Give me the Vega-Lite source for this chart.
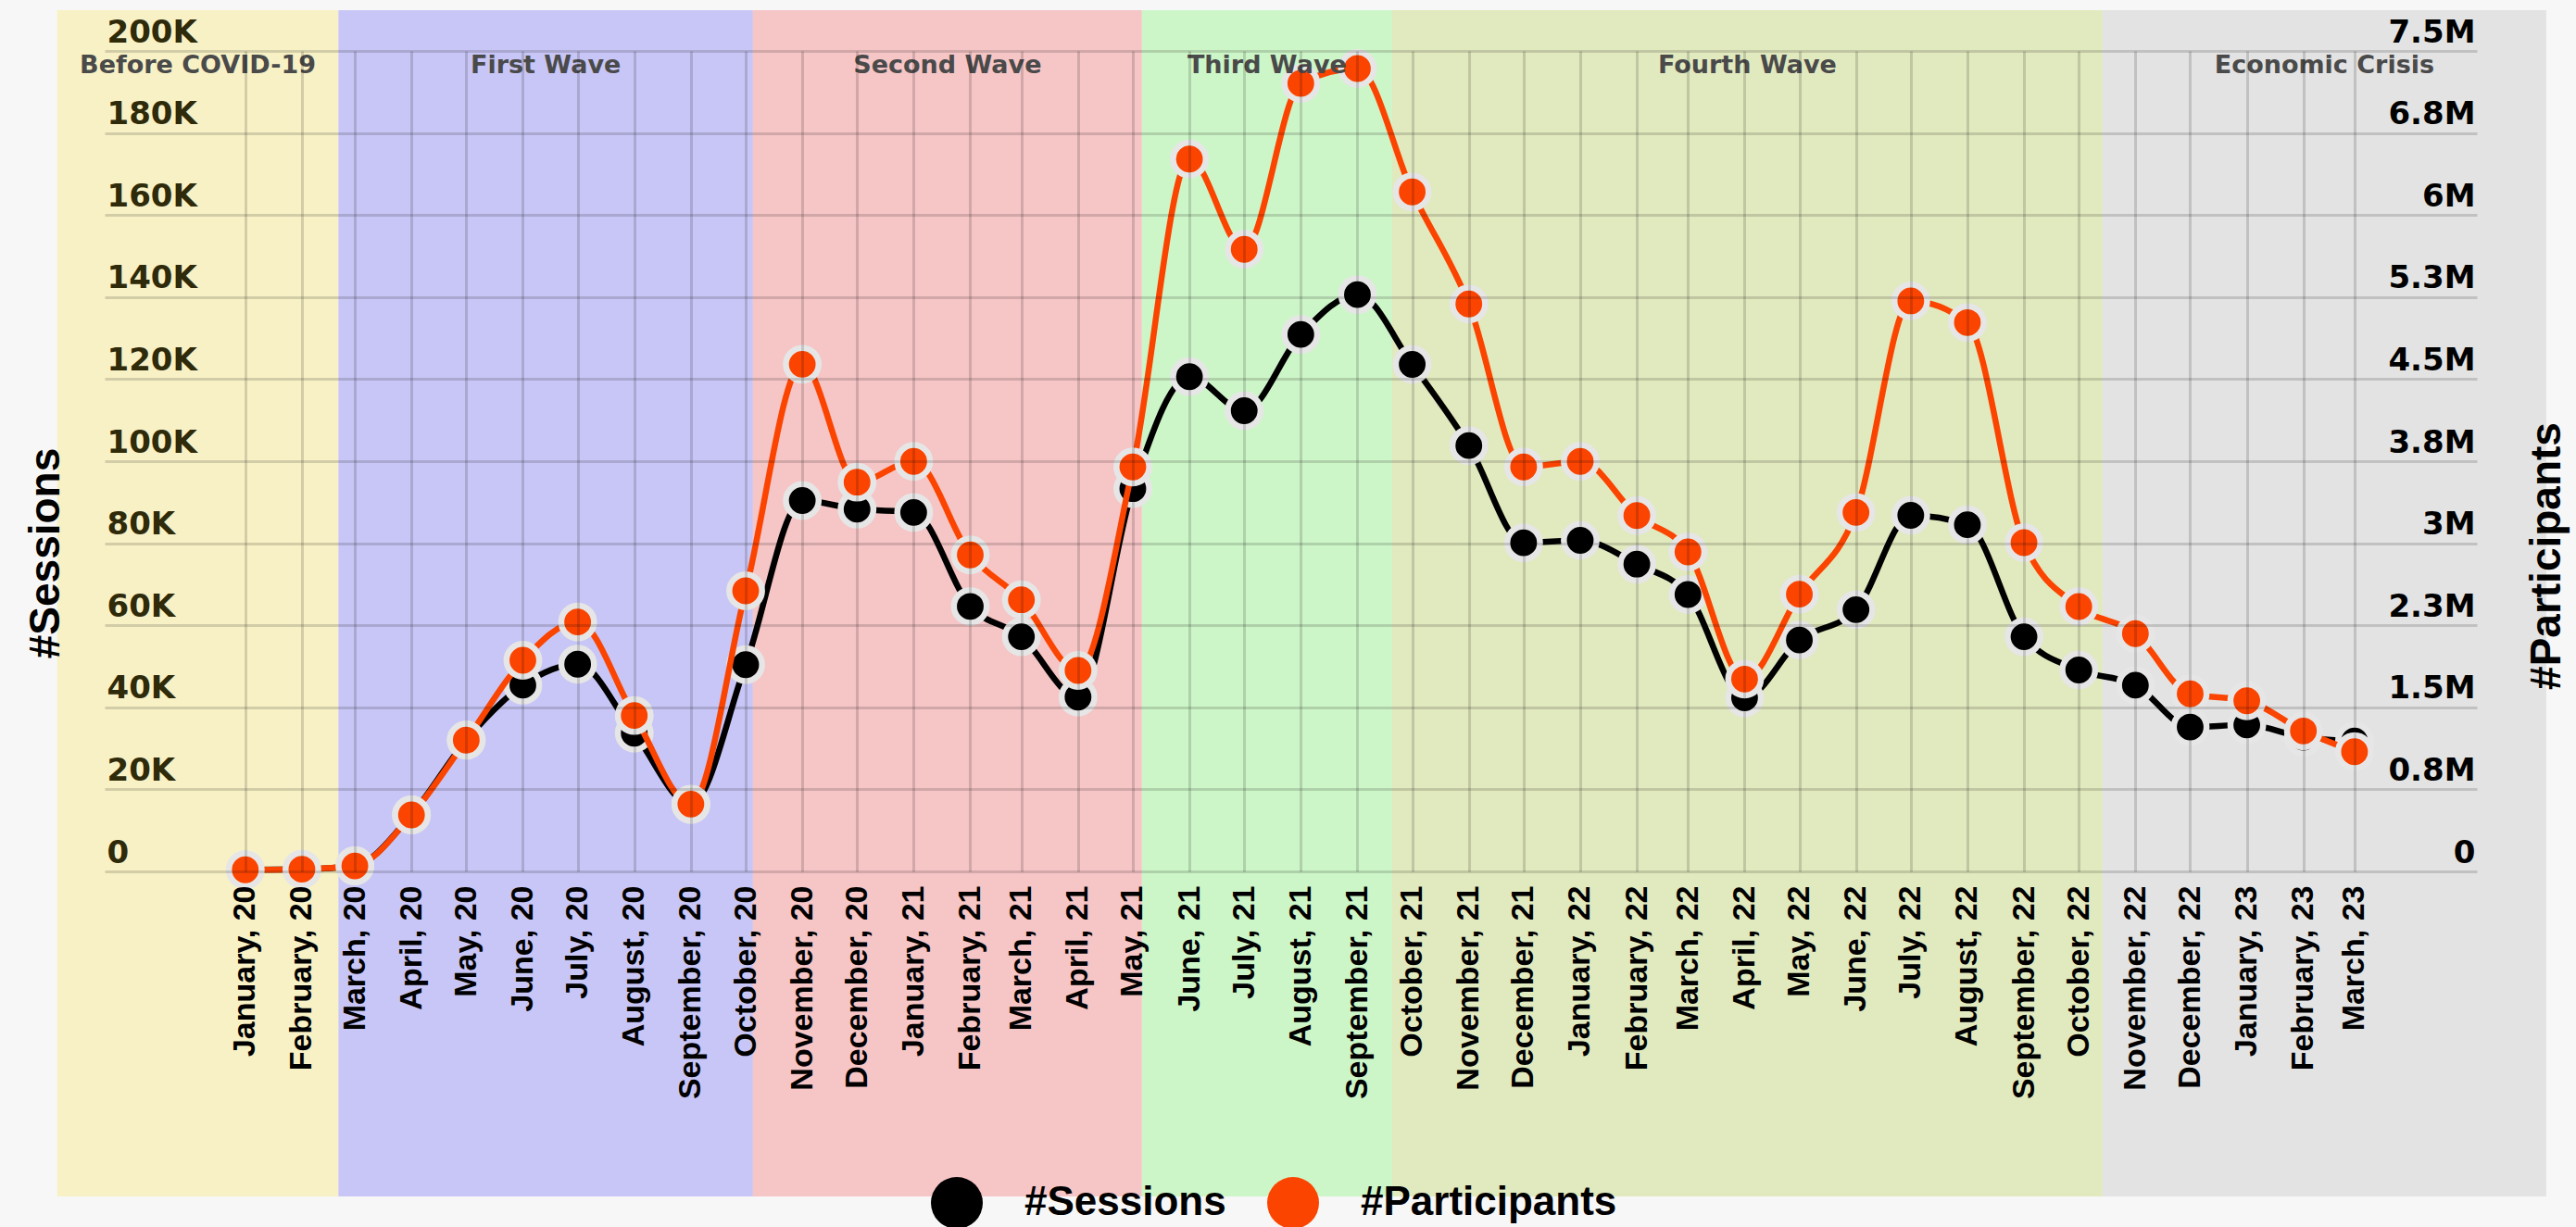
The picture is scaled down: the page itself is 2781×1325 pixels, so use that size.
{
  "$schema": "https://vega.github.io/schema/vega-lite/v6.json",
  "width": 2561,
  "height": 886,
  "autosize": {"type": "none"},
  "padding": {"left": 113, "top": 55, "right": 107, "bottom": 384},
  "background": "#f7f7f7",
  "config": {"view": {"stroke": null}},
  "datasets": {
    "monthly": [
      {"month": "2020-01-01", "sessions": 400, "participants": 15000},
      {"month": "2020-02-01", "sessions": 500, "participants": 20000},
      {"month": "2020-03-01", "sessions": 1400, "participants": 50000},
      {"month": "2020-04-01", "sessions": 13800, "participants": 516000},
      {"month": "2020-05-01", "sessions": 32000, "participants": 1200000},
      {"month": "2020-06-01", "sessions": 45400, "participants": 1930000},
      {"month": "2020-07-01", "sessions": 50500, "participants": 2280000},
      {"month": "2020-08-01", "sessions": 33700, "participants": 1425000},
      {"month": "2020-09-01", "sessions": 16300, "participants": 615000},
      {"month": "2020-10-01", "sessions": 50400, "participants": 2565000},
      {"month": "2020-11-01", "sessions": 90400, "participants": 4636000},
      {"month": "2020-12-01", "sessions": 88300, "participants": 3558000},
      {"month": "2021-01-01", "sessions": 87500, "participants": 3748000},
      {"month": "2021-02-01", "sessions": 64600, "participants": 2893000},
      {"month": "2021-03-01", "sessions": 57200, "participants": 2483000},
      {"month": "2021-04-01", "sessions": 42500, "participants": 1837000},
      {"month": "2021-05-01", "sessions": 93300, "participants": 3697000},
      {"month": "2021-06-01", "sessions": 120600, "participants": 6512000},
      {"month": "2021-07-01", "sessions": 112300, "participants": 5686000},
      {"month": "2021-08-01", "sessions": 130900, "participants": 7204000},
      {"month": "2021-09-01", "sessions": 140600, "participants": 7339000},
      {"month": "2021-10-01", "sessions": 123600, "participants": 6211000},
      {"month": "2021-11-01", "sessions": 103800, "participants": 5187000},
      {"month": "2021-12-01", "sessions": 80100, "participants": 3697000},
      {"month": "2022-01-01", "sessions": 80700, "participants": 3748000},
      {"month": "2022-02-01", "sessions": 74900, "participants": 3253000},
      {"month": "2022-03-01", "sessions": 67500, "participants": 2920000},
      {"month": "2022-04-01", "sessions": 42300, "participants": 1758000},
      {"month": "2022-05-01", "sessions": 56400, "participants": 2534000},
      {"month": "2022-06-01", "sessions": 63800, "participants": 3281000},
      {"month": "2022-07-01", "sessions": 86800, "participants": 5215000},
      {"month": "2022-08-01", "sessions": 84500, "participants": 5017000},
      {"month": "2022-09-01", "sessions": 57200, "participants": 3005000},
      {"month": "2022-10-01", "sessions": 49100, "participants": 2421000},
      {"month": "2022-11-01", "sessions": 45400, "participants": 2173000},
      {"month": "2022-12-01", "sessions": 35200, "participants": 1623000},
      {"month": "2023-01-01", "sessions": 35700, "participants": 1560000},
      {"month": "2023-02-01", "sessions": 32700, "participants": 1284000},
      {"month": "2023-03-01", "sessions": 31800, "participants": 1094000}
    ],
    "periods": [
      {"period": "Before COVID-19", "start": "2019-09-20", "end": "2020-02-21"},
      {"period": "First Wave", "start": "2020-02-21", "end": "2020-10-05"},
      {"period": "Second Wave", "start": "2020-10-05", "end": "2021-05-06"},
      {"period": "Third Wave", "start": "2021-05-06", "end": "2021-09-20"},
      {"period": "Fourth Wave", "start": "2021-09-20", "end": "2022-10-14"},
      {"period": "Economic Crisis", "start": "2022-10-14", "end": "2023-06-14"}
    ]
  },
  "layer": [
    {
      "layer": [
        {
          "data": {"name": "periods"},
          "mark": {"type": "rect"},
          "encoding": {
            "x": {
              "field": "start",
              "type": "temporal",
              "scale": {
                "type": "utc",
                "domain": [
                  {"year": 2019, "month": 10, "date": 16, "utc": true},
                  {"year": 2023, "month": 5, "date": 7, "utc": true}
                ]
              },
              "axis": {
                "title": null,
                "values": [
                  {"year": 2020, "month": 1, "date": 1, "utc": true},
                  {"year": 2020, "month": 2, "date": 1, "utc": true},
                  {"year": 2020, "month": 3, "date": 1, "utc": true},
                  {"year": 2020, "month": 4, "date": 1, "utc": true},
                  {"year": 2020, "month": 5, "date": 1, "utc": true},
                  {"year": 2020, "month": 6, "date": 1, "utc": true},
                  {"year": 2020, "month": 7, "date": 1, "utc": true},
                  {"year": 2020, "month": 8, "date": 1, "utc": true},
                  {"year": 2020, "month": 9, "date": 1, "utc": true},
                  {"year": 2020, "month": 10, "date": 1, "utc": true},
                  {"year": 2020, "month": 11, "date": 1, "utc": true},
                  {"year": 2020, "month": 12, "date": 1, "utc": true},
                  {"year": 2021, "month": 1, "date": 1, "utc": true},
                  {"year": 2021, "month": 2, "date": 1, "utc": true},
                  {"year": 2021, "month": 3, "date": 1, "utc": true},
                  {"year": 2021, "month": 4, "date": 1, "utc": true},
                  {"year": 2021, "month": 5, "date": 1, "utc": true},
                  {"year": 2021, "month": 6, "date": 1, "utc": true},
                  {"year": 2021, "month": 7, "date": 1, "utc": true},
                  {"year": 2021, "month": 8, "date": 1, "utc": true},
                  {"year": 2021, "month": 9, "date": 1, "utc": true},
                  {"year": 2021, "month": 10, "date": 1, "utc": true},
                  {"year": 2021, "month": 11, "date": 1, "utc": true},
                  {"year": 2021, "month": 12, "date": 1, "utc": true},
                  {"year": 2022, "month": 1, "date": 1, "utc": true},
                  {"year": 2022, "month": 2, "date": 1, "utc": true},
                  {"year": 2022, "month": 3, "date": 1, "utc": true},
                  {"year": 2022, "month": 4, "date": 1, "utc": true},
                  {"year": 2022, "month": 5, "date": 1, "utc": true},
                  {"year": 2022, "month": 6, "date": 1, "utc": true},
                  {"year": 2022, "month": 7, "date": 1, "utc": true},
                  {"year": 2022, "month": 8, "date": 1, "utc": true},
                  {"year": 2022, "month": 9, "date": 1, "utc": true},
                  {"year": 2022, "month": 10, "date": 1, "utc": true},
                  {"year": 2022, "month": 11, "date": 1, "utc": true},
                  {"year": 2022, "month": 12, "date": 1, "utc": true},
                  {"year": 2023, "month": 1, "date": 1, "utc": true},
                  {"year": 2023, "month": 2, "date": 1, "utc": true},
                  {"year": 2023, "month": 3, "date": 1, "utc": true}
                ],
                "labelExpr": "utcFormat(datum.value, '%B, %y')",
                "labelAngle": -90,
                "labelFont": "Liberation Sans",
                "labelFontWeight": "bold",
                "labelFontSize": 34,
                "labelColor": "#000000",
                "labelPadding": 15,
                "labelLimit": 0,
                "labelOverlap": false,
                "labelFlush": false,
                "labelBound": false,
                "ticks": false,
                "tickSize": 0,
                "domain": false,
                "grid": true,
                "gridColor": "#000000",
                "gridOpacity": 0.15,
                "gridWidth": 3,
                "zindex": 1
              }
            },
            "x2": {"field": "end"},
            "y": {
              "datum": 209932,
              "type": "quantitative",
              "scale": {"domain": [0, 200000], "nice": false, "zero": false},
              "axis": {
                "title": "#Sessions",
                "titleFont": "Liberation Sans",
                "titleFontWeight": "bold",
                "titleFontSize": 46,
                "titleColor": "#000000",
                "titleAngle": -90,
                "titleX": -50,
                "titleY": 542,
                "titleAlign": "center",
                "titleBaseline": "alphabetic",
                "values": [0, 20000, 40000, 60000, 80000, 100000, 120000, 140000, 160000, 180000, 200000],
                "labelExpr": "datum.value == 0 ? '0' : (datum.value / 1000) + 'K'",
                "labelAlign": "left",
                "labelBaseline": "alphabetic",
                "labelOffset": -10,
                "labelPadding": -2,
                "labelFont": "DejaVu Sans",
                "labelFontWeight": "bold",
                "labelFontSize": 34,
                "labelColor": "#2e2a0a",
                "labelOverlap": false,
                "labelFlush": false,
                "ticks": false,
                "tickSize": 0,
                "domain": false,
                "grid": true,
                "gridColor": "#000000",
                "gridOpacity": 0.15,
                "gridWidth": 3,
                "zindex": 1
              }
            },
            "y2": {"datum": -79232},
            "fill": {
              "field": "period",
              "type": "nominal",
              "scale": {
                "domain": ["Before COVID-19", "First Wave", "Second Wave", "Third Wave", "Fourth Wave", "Economic Crisis"],
                "range": ["#f8f1c5", "#c8c6f6", "#f6c5c6", "#cdf6c8", "#e1e9be", "#e3e3e3"]
              },
              "legend": null
            }
          }
        },
        {
          "data": {"name": "monthly"},
          "mark": {"type": "line", "interpolate": "monotone", "strokeWidth": 6.5, "color": "#000000"},
          "encoding": {
            "x": {"field": "month", "type": "temporal"},
            "y": {"field": "sessions", "type": "quantitative"}
          }
        },
        {
          "data": {"name": "monthly"},
          "mark": {"type": "point", "shape": "circle", "filled": true, "size": 1250, "stroke": "#e6e6e6", "strokeWidth": 6.5, "opacity": 1},
          "encoding": {
            "x": {"field": "month", "type": "temporal"},
            "y": {"field": "sessions", "type": "quantitative"},
            "color": {
              "datum": "#Sessions",
              "type": "nominal",
              "scale": {"domain": ["#Sessions", "#Participants"], "range": ["#000000", "#fb4400"]},
              "legend": {
                "orient": "none",
                "legendX": 892,
                "legendY": 1216,
                "direction": "horizontal",
                "title": null,
                "padding": 0,
                "symbolType": "circle",
                "symbolSize": 3136,
                "symbolStrokeWidth": 0,
                "symbolOpacity": 1,
                "labelFont": "Liberation Sans",
                "labelFontSize": 44,
                "labelFontWeight": "bold",
                "labelColor": "#000000",
                "labelOffset": 45,
                "labelLimit": 0,
                "columnPadding": 44,
                "encode": {
                  "symbols": {"update": {"stroke": {"value": "transparent"}, "strokeWidth": {"value": 0}}}
                }
              }
            }
          }
        }
      ]
    },
    {
      "layer": [
        {
          "data": {"name": "monthly"},
          "mark": {"type": "line", "interpolate": "monotone", "strokeWidth": 6.5, "color": "#fb4400"},
          "encoding": {
            "x": {"field": "month", "type": "temporal"},
            "y": {
              "field": "participants",
              "type": "quantitative",
              "scale": {"domain": [0, 7500000], "nice": false, "zero": false},
              "axis": {
                "orient": "right",
                "title": "#Participants",
                "titleFont": "Liberation Sans",
                "titleFontWeight": "bold",
                "titleFontSize": 46,
                "titleColor": "#000000",
                "titleAngle": -90,
                "titleX": 89,
                "titleY": 545,
                "titleAlign": "center",
                "titleBaseline": "alphabetic",
                "values": [0, 750000, 1500000, 2250000, 3000000, 3750000, 4500000, 5250000, 6000000, 6750000, 7500000],
                "labelExpr": "datum.value == 0 ? '0' : format(datum.value / 1000000, '.1~f') + 'M'",
                "labelAlign": "right",
                "labelBaseline": "alphabetic",
                "labelOffset": -10,
                "labelPadding": -2,
                "labelFont": "DejaVu Sans",
                "labelFontWeight": "bold",
                "labelFontSize": 34,
                "labelColor": "#000000",
                "labelOverlap": false,
                "labelFlush": false,
                "ticks": false,
                "tickSize": 0,
                "domain": false,
                "grid": false,
                "zindex": 1
              }
            }
          }
        },
        {
          "data": {"name": "monthly"},
          "mark": {"type": "point", "shape": "circle", "filled": true, "size": 1250, "stroke": "#e6e6e6", "strokeWidth": 6.5, "opacity": 1},
          "encoding": {
            "x": {"field": "month", "type": "temporal"},
            "y": {"field": "participants", "type": "quantitative"},
            "color": {"datum": "#Participants", "type": "nominal"}
          }
        },
        {
          "data": {"name": "periods"},
          "transform": [
            {"calculate": "(time(datum.start) + time(datum.end)) / 2", "as": "mid"}
          ],
          "mark": {
            "type": "text",
            "font": "DejaVu Sans",
            "fontWeight": "bold",
            "fontSize": 27,
            "color": "#4a4a4a",
            "align": "center",
            "baseline": "middle"
          },
          "encoding": {
            "x": {"field": "mid", "type": "temporal"},
            "y": {"datum": 7364600, "type": "quantitative"},
            "text": {"field": "period", "type": "nominal"}
          }
        }
      ]
    }
  ],
  "resolve": {"scale": {"y": "independent"}}
}
